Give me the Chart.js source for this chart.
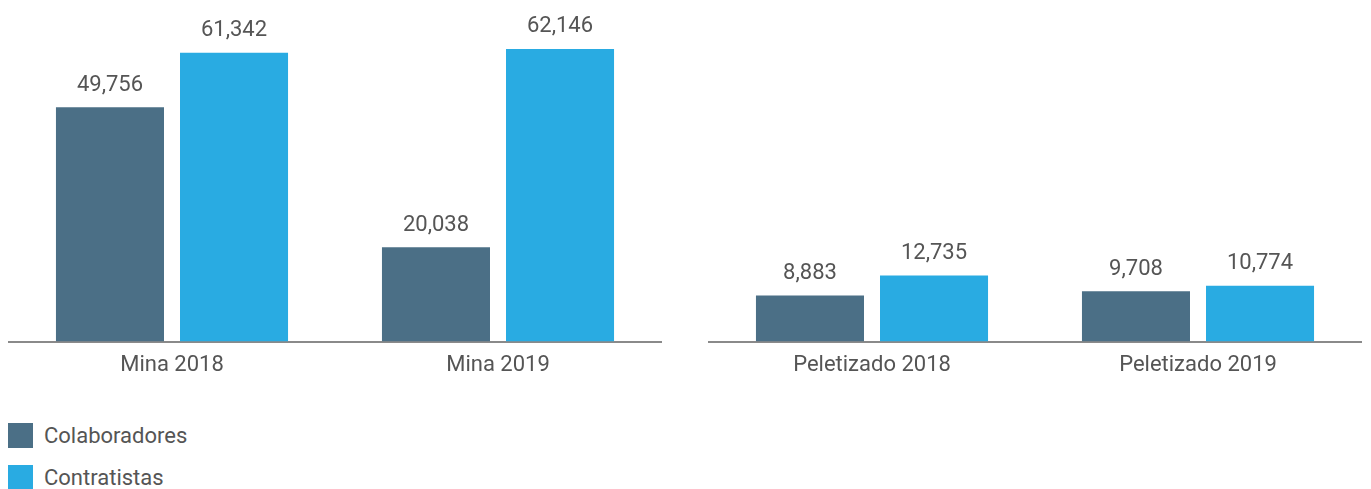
<!DOCTYPE html>
<html>
<head>
<meta charset="utf-8">
<script src="https://cdn.jsdelivr.net/npm/chart.js@4.4.1/dist/chart.umd.min.js"></script>
<style>
  html, body { margin: 0; padding: 0; background: #fff; }
  body { width: 1371px; height: 489px; position: relative; overflow: hidden;
         font-family: 'Roboto', sans-serif; }
  .panel { position: absolute; top: 0; }
  #legend { position: absolute; left: 8px; top: 423px; }
  .item { display: flex; align-items: center; height: 25px; margin-bottom: 17px;
          font-size: 22px; color: #555; }
  .swatch { width: 25px; height: 25px; margin-right: 11px; }
</style>
</head>
<body>
<div class="panel" style="left:0px"><canvas id="mina" width="675" height="390"></canvas></div>
<div class="panel" style="left:700px"><canvas id="pelet" width="671" height="390"></canvas></div>
<div id="legend"></div>
<script>
// Workforce by operation and year
const seriesNames = ['Colaboradores', 'Contratistas'];
const seriesColors = ['#4b6f86', '#29abe2'];

const minaLabels = ['Mina 2018', 'Mina 2019'];
const minaColaboradores = [49756, 20038];
const minaContratistas = [61342, 62146];

const peletLabels = ['Peletizado 2018', 'Peletizado 2019'];
const peletColaboradores = [8883, 9708];
const peletContratistas = [12735, 10774];

const FONT = "'Roboto', sans-serif";
const TEXT = '#555555';

// Value labels above every bar
const valueLabels = {
  id: 'valueLabels',
  afterDatasetsDraw(chart) {
    const ctx = chart.ctx;
    ctx.save();
    ctx.font = '22px ' + FONT;
    ctx.fillStyle = TEXT;
    ctx.textAlign = 'center';
    ctx.textBaseline = 'middle';
    chart.data.datasets.forEach((ds, i) => {
      chart.getDatasetMeta(i).data.forEach((bar, j) => {
        ctx.fillText(ds.data[j].toLocaleString('en-US'), bar.x, bar.y - 22);
      });
    });
    ctx.restore();
  }
};

function makeChart(id, labels, colab, contr, yMax, padLeft, padRight) {
  return new Chart(document.getElementById(id), {
    type: 'bar',
    data: {
      labels: labels,
      datasets: [
        { label: seriesNames[0], data: colab, backgroundColor: seriesColors[0] },
        { label: seriesNames[1], data: contr, backgroundColor: seriesColors[1] }
      ]
    },
    options: {
      responsive: false,
      animation: false,
      events: [],
      categoryPercentage: 0.761,
      barPercentage: 0.871,
      layout: { padding: { left: padLeft, right: padRight, top: 12, bottom: 0 } },
      plugins: { legend: { display: false }, tooltip: { enabled: false } },
      scales: {
        x: {
          grid: { display: false, drawTicks: false },
          border: { display: true, color: '#8a8a8a', width: 2 },
          ticks: { color: TEXT, font: { family: FONT, size: 22 }, padding: 11 }
        },
        y: { display: false, min: 0, max: yMax }
      }
    },
    plugins: [valueLabels]
  });
}

makeChart('mina', minaLabels, minaColaboradores, minaContratistas, 70000, 9, 14);
makeChart('pelet', peletLabels, peletColaboradores, peletContratistas, 63500, 9, 10);

// Legend, stacked vertically under the first panel
const legend = document.getElementById('legend');
seriesNames.forEach((name, i) => {
  const row = document.createElement('div');
  row.className = 'item';
  const sw = document.createElement('div');
  sw.className = 'swatch';
  sw.style.background = seriesColors[i];
  const tx = document.createElement('span');
  tx.textContent = name;
  row.appendChild(sw);
  row.appendChild(tx);
  legend.appendChild(row);
});
</script>
</body>
</html>
